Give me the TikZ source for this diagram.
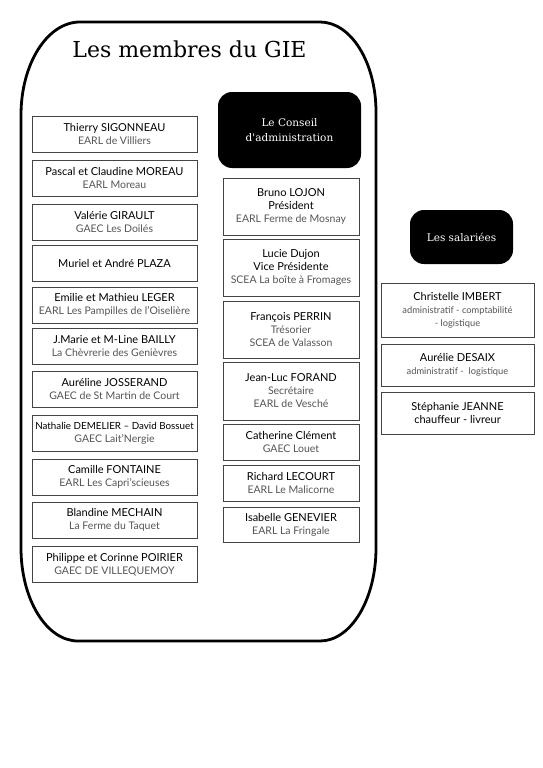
\documentclass[tikz,border=0pt]{standalone}
\usepackage{fontspec}
\setmainfont{Lato}
\newfontfamily\titlefont{DejaVu Serif}
\definecolor{subgray}{HTML}{555555}
\definecolor{boxgray}{HTML}{444444}
\begin{document}
\begin{tikzpicture}[x=1pt,y=-1pt,
  mbox/.style={draw=boxgray, line width=0.9pt, fill=white, align=center, inner sep=1pt,
    font=\fontsize{11}{13}\selectfont},
  lbox/.style={mbox, minimum width=165pt, minimum height=36pt},
  cbox/.style={mbox, minimum width=136pt},
  sbox/.style={mbox, minimum width=153pt},
  blk/.style={fill=black, rounded corners=14pt, text=white, align=center,
    font=\titlefont\fontsize{10.5}{15}\selectfont}]
\useasboundingbox (0,0) rectangle (543,768);
\fill[white] (0,0) rectangle (543,768);
% big outline
\draw[line width=2.8pt] (80,22) -- (320,22)
  .. controls (350.9,22) and (376,62.3) .. (376,112)
  -- (376,548)
  .. controls (376,599.4) and (350.9,641) .. (320,641)
  -- (78,641)
  .. controls (46.5,641) and (21,599.4) .. (21,548)
  -- (21,115)
  .. controls (21,63.6) and (47.4,22) .. (80,22) -- cycle;
\node[font=\titlefont\fontsize{22}{26}\selectfont, anchor=base] (title) at (189.5,58) {Les membres du GIE};
\newcommand{\g}[1]{{\color{subgray}\fontsize{10.5}{12.5}\selectfont#1}}
% left column
\node[lbox] (m1) at (114.5,134) {Thierry SIGONNEAU\\\g{EARL de Villiers}};
\node[lbox] (m2) at (114.5,178) {Pascal et Claudine MOREAU\\\g{EARL Moreau}};
\node[lbox] (m3) at (114.5,222) {Valérie GIRAULT\\\g{GAEC Les Doilés}};
\node[lbox] (m4) at (114.5,263) {Muriel et André PLAZA};
\node[lbox] (m5) at (114.5,305) {Emilie et Mathieu LEGER\\\g{EARL Les Pampilles de l'Oiselière}};
\node[lbox] (m6) at (114.5,346) {J.Marie et M-Line BAILLY\\\g{La Chèvrerie des Genièvres}};
\node[lbox] (m7) at (114.5,389) {Auréline JOSSERAND\\\g{GAEC de St Martin de Court}};
\node[lbox] (m8) at (114.5,433.5) {{\fontsize{9.8}{11.5}\selectfont Nathalie DEMELIER -- David Bossuet}\\\g{GAEC Lait'Nergie}};
\node[lbox] (m9) at (114.5,477) {Camille FONTAINE\\\g{EARL Les Capri'scieuses}};
\node[lbox] (m10) at (114.5,520) {Blandine MECHAIN\\\g{La Ferme du Taquet}};
\node[lbox] (m11) at (114.5,564.5) {Philippe et Corinne POIRIER\\\g{GAEC DE VILLEQUEMOY}};
% middle column
\node[blk, minimum width=143pt, minimum height=76pt] (ca) at (289.5,130) {Le Conseil\\d'administration};
\node[cbox, minimum height=57pt] (c1) at (291,206.5) {Bruno LOJON\\Président\\\g{EARL Ferme de Mosnay}};
\node[cbox, minimum height=57pt] (c2) at (291,267.5) {Lucie Dujon\\Vice Présidente\\\g{SCEA La boîte à Fromages}};
\node[cbox, minimum height=57pt] (c3) at (291,329.5) {François PERRIN\\\g{Trésorier}\\\g{SCEA de Valasson}};
\node[cbox, minimum height=58pt] (c4) at (291,391) {Jean-Luc FORAND\\\g{Secrétaire}\\\g{EARL de Vesché}};
\node[cbox, minimum height=36pt] (c5) at (291,442) {Catherine Clément\\\g{GAEC Louet}};
\node[cbox, minimum height=36pt] (c6) at (291,483) {Richard LECOURT\\\g{EARL Le Malicorne}};
\node[cbox, minimum height=35pt] (c7) at (291,524.5) {Isabelle GENEVIER\\\g{EARL La Fringale}};
% right column
\newcommand{\sm}[1]{{\color{subgray}\fontsize{9.3}{11.5}\selectfont#1}}
\node[blk, minimum width=103pt, minimum height=54pt] (sal) at (461.5,237) {Les salariées};
\node[sbox, minimum height=54pt] (s1) at (457.5,310) {Christelle IMBERT\\\sm{administratif - comptabilité}\\\sm{- logistique}};
\node[sbox, minimum height=42pt] (s2) at (457.5,365) {Aurélie DESAIX\\\sm{administratif -\ \ logistique}};
\node[sbox, minimum height=42pt] (s3) at (457.5,413) {Stéphanie JEANNE\\chauffeur - livreur};
\end{tikzpicture}
\end{document}
